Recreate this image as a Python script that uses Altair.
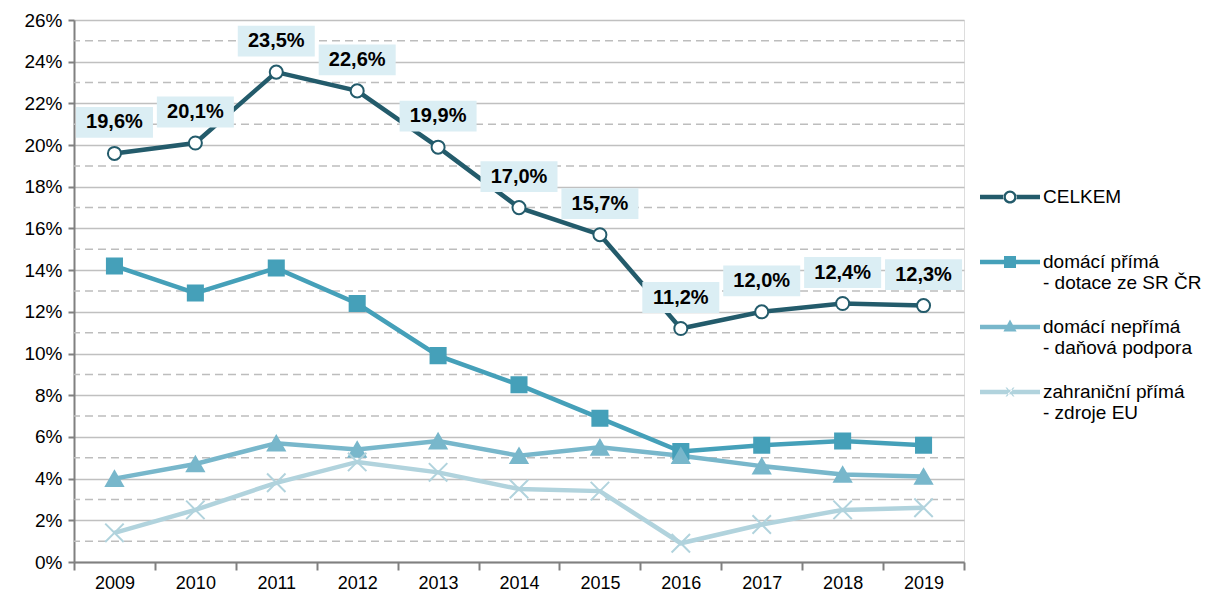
import altair as alt
import pandas as pd

years = ["2009", "2010", "2011", "2012", "2013", "2014", "2015", "2016", "2017", "2018", "2019"]
celkem = [19.6, 20.1, 23.5, 22.6, 19.9, 17.0, 15.7, 11.2, 12.0, 12.4, 12.3]
prima = [14.2, 12.9, 14.1, 12.4, 9.9, 8.5, 6.9, 5.3, 5.6, 5.8, 5.6]
neprima = [4.0, 4.7, 5.7, 5.4, 5.8, 5.1, 5.5, 5.1, 4.6, 4.2, 4.1]
eu = [1.4, 2.5, 3.8, 4.8, 4.3, 3.5, 3.4, 0.9, 1.8, 2.5, 2.6]

series_names = [
    "CELKEM| ",
    "domácí přímá|- dotace ze SR ČR",
    "domácí nepřímá|- daňová podpora",
    "zahraniční přímá|- zdroje EU",
]
series_values = [celkem, prima, neprima, eu]
colors = ["#235B6B", "#45A0B9", "#78B7CB", "#B1D3DD"]
fills = ["#FFFFFF", "#45A0B9", "#78B7CB", "#B1D3DD"]
odd_grid = [1, 3, 5, 7, 9, 11, 13, 15, 17, 19, 21, 23, 25]
y_ticks = [0, 2, 4, 6, 8, 10, 12, 14, 16, 18, 20, 22, 24, 26]

rows = []
for s, vals in zip(series_names, series_values):
    for i, (yr, v) in enumerate(zip(years, vals)):
        rows.append({"year": yr, "value": v, "series": s, "order": i})
df = pd.DataFrame(rows)
df_total = pd.DataFrame({"year": years, "value": celkem})
df_grid = pd.DataFrame({"value": odd_grid})

FONT = "Liberation Sans"

x_enc = alt.X(
    "year:N",
    title=None,
    scale=alt.Scale(paddingInner=0, paddingOuter=0),
    axis=alt.Axis(
        labelAngle=0, tickBand="extent", tickSize=8, tickColor="#808080", tickWidth=2,
        domainColor="#808080", domainWidth=2, labelFontSize=18, labelColor="#000000",
        labelFont=FONT, labelPadding=4, grid=False,
    ),
)
y_scale = alt.Scale(domain=[0, 26], nice=False)
y_axis = alt.Axis(
    values=y_ticks, labelExpr="datum.value + '%'", tickSize=6, tickColor="#808080",
    tickWidth=2, domainColor="#808080", domainWidth=2, labelFontSize=19,
    labelColor="#000000", labelFont=FONT, labelPadding=6,
    grid=True, gridColor="#C0C0C0", gridWidth=1.5,
)
y_enc = alt.Y("value:Q", title=None, scale=y_scale, axis=y_axis)

stroke_scale = alt.Scale(domain=series_names, range=colors)

grid = alt.Chart(df_grid).mark_rule(color="#BDBDBD", strokeWidth=1.5, strokeDash=[8, 5]).encode(
    y=y_enc
)

lines = alt.Chart(df).mark_line(strokeWidth=4.5).encode(
    x=x_enc, y=y_enc,
    stroke=alt.Stroke("series:N", scale=stroke_scale, legend=None),
    order=alt.Order("order:Q"),
)

x_path = "M-1,-1L1,1M-1,1L1,-1"
points = alt.Chart(df).mark_point(filled=False, strokeWidth=2, opacity=1).encode(
    x=x_enc, y=y_enc,
    fill=alt.Fill("series:N", scale=alt.Scale(domain=series_names, range=fills), legend=None),
    stroke=alt.Stroke("series:N", scale=stroke_scale, legend=None),
    shape=alt.Shape("series:N", scale=alt.Scale(domain=series_names,
                    range=["circle", "square", "triangle-up", x_path]), legend=None),
    size=alt.Size("series:N", scale=alt.Scale(domain=series_names, range=[170, 340, 400, 260]), legend=None),
)

def seg(x0, x1, yc, h=0.075):
    return f"M{x0},{yc-h}L{x1},{yc-h}L{x1},{yc+h}L{x0},{yc+h}Z"

leg_circle = (seg(-1, -0.2, 0) + seg(0.2, 1, 0) +
              "M-0.22,0A0.22,0.22 0 1,0 0.22,0A0.22,0.22 0 1,0 -0.22,0Z"
              "M-0.14,0A0.14,0.14 0 1,1 0.14,0A0.14,0.14 0 1,1 -0.14,0Z")
leg_square = seg(-1, 1, 0) + "M-0.2,-0.2L0.2,-0.2L0.2,0.2L-0.2,0.2Z"
leg_tri = seg(-1, 1, 0) + "M-0.22,0.15L0,-0.25L0.22,0.15Z"
leg_x = seg(-1, 1, 0) + "M-0.15,-0.15L-0.1,-0.15L0.15,0.15L0.1,0.15Z" + \
        "M0.15,-0.15L0.1,-0.15L-0.15,0.15L-0.1,0.15Z"

leg_props = dict(orient="none", legendX=906, legendY=147,
                 labelExpr="split(datum.label, '|')",
                 labelFontSize=19, labelFont=FONT, labelColor="#000000",
                 labelLimit=300, symbolSize=3600, symbolStrokeWidth=0,
                 rowPadding=4, labelOffset=3, symbolOpacity=1)

legend_layer = alt.Chart(df).mark_point(filled=True, opacity=1).encode(
    x=x_enc, y=y_enc,
    color=alt.Color("series:N", scale=alt.Scale(domain=series_names, range=colors), title=None,
                    legend=alt.Legend(**leg_props)),
    shape=alt.Shape("series:N", scale=alt.Scale(domain=series_names,
                    range=[leg_circle, leg_square, leg_tri, leg_x]), title=None,
                    legend=alt.Legend(**leg_props)),
).transform_filter("false")

box_path = "M-1,-0.4L1,-0.4L1,0.4L-1,0.4Z"
boxes = alt.Chart(df_total).mark_point(
    filled=True, shape=box_path, size=5929, color="#DBEEF4", opacity=1, strokeWidth=0, yOffset=-31
).encode(x=x_enc, y=y_enc)

texts = alt.Chart(df_total).transform_calculate(
    lbl="replace(format(datum.value, '.1f'), '.', ',') + '%'"
).mark_text(fontSize=20, fontWeight="bold", font=FONT, color="#000000", yOffset=-31,
            baseline="middle").encode(x=x_enc, y=y_enc, text="lbl:N")

chart = alt.layer(grid, lines, points, legend_layer, boxes, texts).resolve_scale(
    shape="independent", color="independent"
).properties(
    width=890, height=542, padding={"left": 15, "top": 3, "right": 0, "bottom": 0}
).configure_view(stroke="#A6A6A6", strokeWidth=2).configure(background="#FFFFFF"
).configure_legend(labelFontSize=19, labelFont=FONT, labelColor="#000000", labelLimit=300,
                   symbolSize=3600, symbolStrokeWidth=0, rowPadding=4)

chart.save("out.html", embed_options={"renderer": "svg", "actions": False})
